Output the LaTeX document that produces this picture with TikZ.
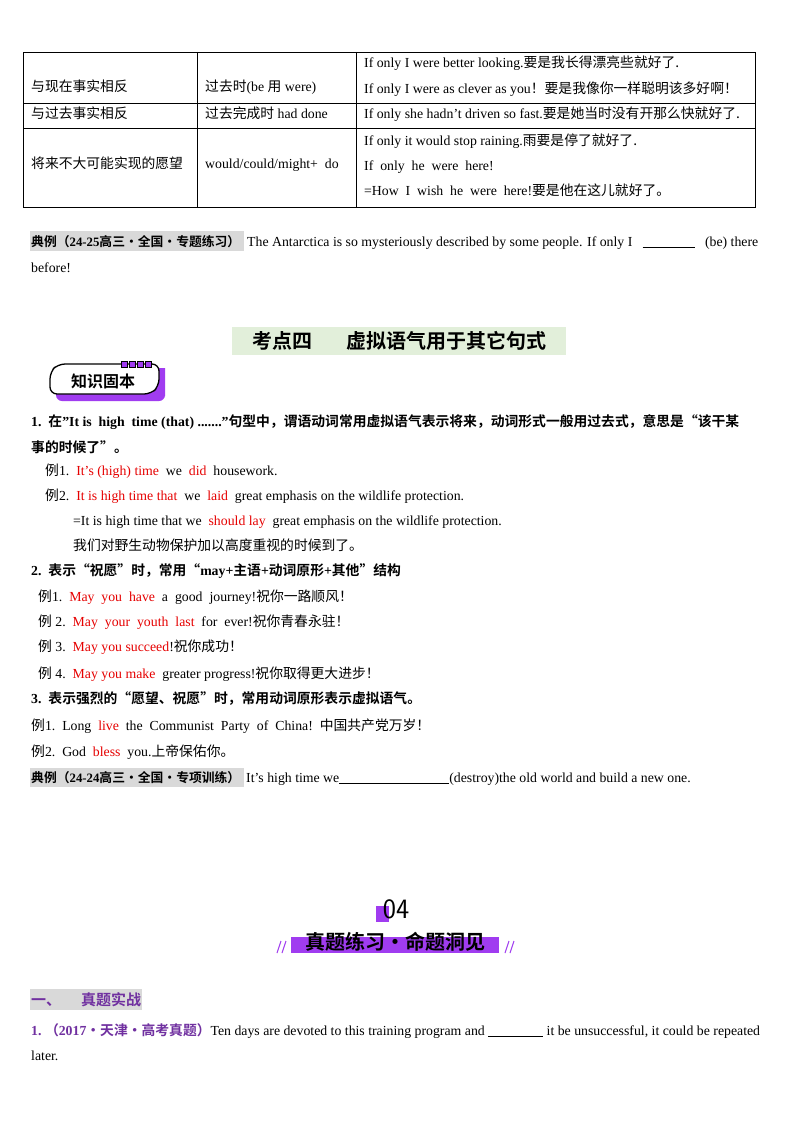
\documentclass[tikz,border=0pt]{standalone}
\usepackage{fontspec}
\setmainfont{Liberation Serif}
\newfontfamily\cjk{Noto Sans CJK SC}[BoldFont={Noto Sans CJK SC Bold}]
\newcommand{\C}[1]{{\cjk #1}}
\newcommand{\ap}{\symbol{39}}
\newcommand{\dq}{\symbol{34}}
\definecolor{rd}{RGB}{230,0,0}
\definecolor{pp}{RGB}{112,48,160}
\definecolor{vio}{RGB}{160,60,240}
\definecolor{hl}{RGB}{217,217,217}
\definecolor{gr}{RGB}{226,239,218}
\begin{document}
\begin{tikzpicture}[x=1pt,y=-1pt,
  t/.style={anchor=base west,inner sep=0pt,font=\fontsize{13.8}{15}\selectfont},
  tb/.style={t,font=\fontsize{13.8}{15}\selectfont\bfseries},
  hb/.style={t,font=\fontsize{12.8}{14}\selectfont\bfseries},
  r/.style={text=rd}]
\useasboundingbox[fill=white] (0,0) rectangle (800,1132);
% table
\draw[line width=0.6pt] (23,52) rectangle (755,207);
\draw[line width=0.6pt] (23,103) -- (755,103) (23,128) -- (755,128) (197,52) -- (197,207) (356,52) -- (356,207);
\node[t] (a1) at (31,92) {\C{与现在事实相反}};
\node[t] (a2) at (205,92) {\C{过去时}(be \C{用} were)};
\node[t] (a3) at (364,67) {If only I were better looking.\C{要是我长得漂亮些就好了.}};
\node[t] (a4) at (364,93) {If only I were as clever as you\C{！要是我像你一样聪明该多好啊！}};
\node[t] (b1) at (31,118) {\C{与过去事实相反}};
\node[t] (b2) at (205,118) {\C{过去完成时} had done};
\node[t] (b3) at (364,118) {If only she hadn\ap t driven so fast.\C{要是她当时没有开那么快就好了.}};
\node[t] (c1) at (31,168) {\C{将来不大可能实现的愿望}};
\node[t] (c2) at (205,168) {would/could/might+\ \ do};
\node[t] (c3) at (364,145) {If only it would stop raining.\C{雨要是停了就好了.}};
\node[t] (c4) at (364,170) {If\ \ only\ \ he\ \ were\ \ here!};
\node[t] (c5) at (364,195) {=How\ \ I\ \ wish\ \ he\ \ were\ \ here!\C{要是他在这儿就好了。}};
% example 1
\fill[hl] (30,231) rectangle (244,251);
\node[hb] (e1) at (31,246) {\C{典例（}24-25\C{高三·全国·专题练习）}};
\node[t] (e2) at (247,246) {The Antarctica is so mysteriously described by some people. If only I\ \ \ \rule[-1.5pt]{52pt}{0.6pt}\ \ \ (be) there};
\node[t] (e3) at (31,272) {before!};
% title
\fill[gr] (232,327) rectangle (566,355);
\node[inner sep=0pt,font=\fontsize{20}{21}\selectfont\cjk\bfseries] (ti) at (399,341) {考点四\hspace{34pt}虚拟语气用于其它句式};
% badge
\fill[vio] (56,368) -- (165,368) -- (165,396) [rounded corners=6pt] -- (165,401) -- (56,401) [sharp corners] -- cycle;
\draw[line width=1.3pt,fill=white,rounded corners=7pt] (50,394) -- (50,372) -- (58,364) -- (159,364) -- (159,386) -- (151,394) -- cycle;
\foreach \i in {0,1,2,3} \draw[line width=1pt,fill=vio] (121+\i*8,361) rectangle (127+\i*8,367);
\node[inner sep=0pt,font=\fontsize{16}{17}\selectfont\cjk\bfseries] (bd) at (103,381) {知识固本};
% section 4 content
\node[tb] (p1) at (31,426) {1.\ \ \C{在}\dq It is\ \ high\ \ time (that) .......\dq\C{句型中，谓语动词常用虚拟语气表示将来，动词形式一般用过去式，意思是“该干某}};
\node[tb] (p1b) at (31,452) {\C{事的时候了”。}};
\node[t] (x1) at (45,475) {\C{例}1.\ \ \textcolor{rd}{It's (high) time}\ \ we\ \ \textcolor{rd}{did}\ \ housework.};
\node[t] (x2) at (45,500) {\C{例}2.\ \ \textcolor{rd}{It is high time that}\ \ we\ \ \textcolor{rd}{laid}\ \ great emphasis on the wildlife protection.};
\node[t] (x3) at (73,525) {=It is high time that we\ \ \textcolor{rd}{should lay}\ \ great emphasis on the wildlife protection.};
\node[t] (x4) at (73,550) {\C{我们对野生动物保护加以高度重视的时候到了。}};
\node[tb] (p2) at (31,575) {2.\ \ \C{表示“祝愿”时，常用“}may+\C{主语}+\C{动词原形}+\C{其他”结构}};
\node[t] (y1) at (38,601) {\C{例}1.\ \ \textcolor{rd}{May\ \ you\ \ have}\ \ a\ \ good\ \ journey!\C{祝你一路顺风！}};
\node[t] (y2) at (38,626) {\C{例} 2.\ \ \textcolor{rd}{May\ \ your\ \ youth\ \ last}\ \ for\ \ ever!\C{祝你青春永驻！}};
\node[t] (y3) at (38,651) {\C{例} 3.\ \ \textcolor{rd}{May you succeed}!\C{祝你成功！}};
\node[t] (y4) at (38,678) {\C{例} 4.\ \ \textcolor{rd}{May you make}\ \ greater progress!\C{祝你取得更大进步！}};
\node[tb] (p3) at (31,703) {3.\ \ \C{表示强烈的“愿望、祝愿”时，常用动词原形表示虚拟语气。}};
\node[t] (z1) at (31,730) {\C{例}1.\ \ Long\ \ \textcolor{rd}{live}\ \ the\ \ Communist\ \ Party\ \ of\ \ China!\ \ \C{中国共产党万岁！}};
\node[t] (z2) at (31,756) {\C{例}2.\ \ God\ \ \textcolor{rd}{bless}\ \ you.\C{上帝保佑你。}};
\fill[hl] (30,768) rectangle (244,787);
\node[hb] (e4) at (31,782) {\C{典例（}24-24\C{高三·全国·专项训练）}};
\node[t] (e5) at (246,782) {It\ap s high time we\rule[-1.5pt]{110pt}{0.6pt}(destroy)the old world and build a new one.};
% 04 header
\fill[vio] (376,906) rectangle (389,922);
\node[inner sep=0pt,font=\fontsize{28}{28}\selectfont\sffamily] (n4) at (396,909) {04};
\fill[vio] (291,937) rectangle (499,953);
\node[inner sep=0pt,font=\fontsize{20}{21}\selectfont\cjk\bfseries] (h4) at (395,942) {真题练习·命题洞见};
\foreach \d in {0,5} {\draw[vio,line width=1pt] (277+\d,953) -- (281+\d,941); \draw[vio,line width=1pt] (505+\d,953) -- (509+\d,941);}
% section 一
\fill[hl] (30,989) rectangle (142,1010);
\node[t,font=\fontsize{15}{16}\selectfont\bfseries,text=pp] (s1) at (31,1005) {\C{一、}\hspace{20pt}\C{真题实战}};
\node[t] (q1) at (31,1035) {\textcolor{pp}{\bfseries 1.\ \C{（}2017\C{·天津·高考真题）}}Ten days are devoted to this training program and \rule[-1.5pt]{55pt}{0.6pt} it be unsuccessful, it could be repeated};
\node[t] (q2) at (31,1060) {later.};
\end{tikzpicture}
\end{document}
